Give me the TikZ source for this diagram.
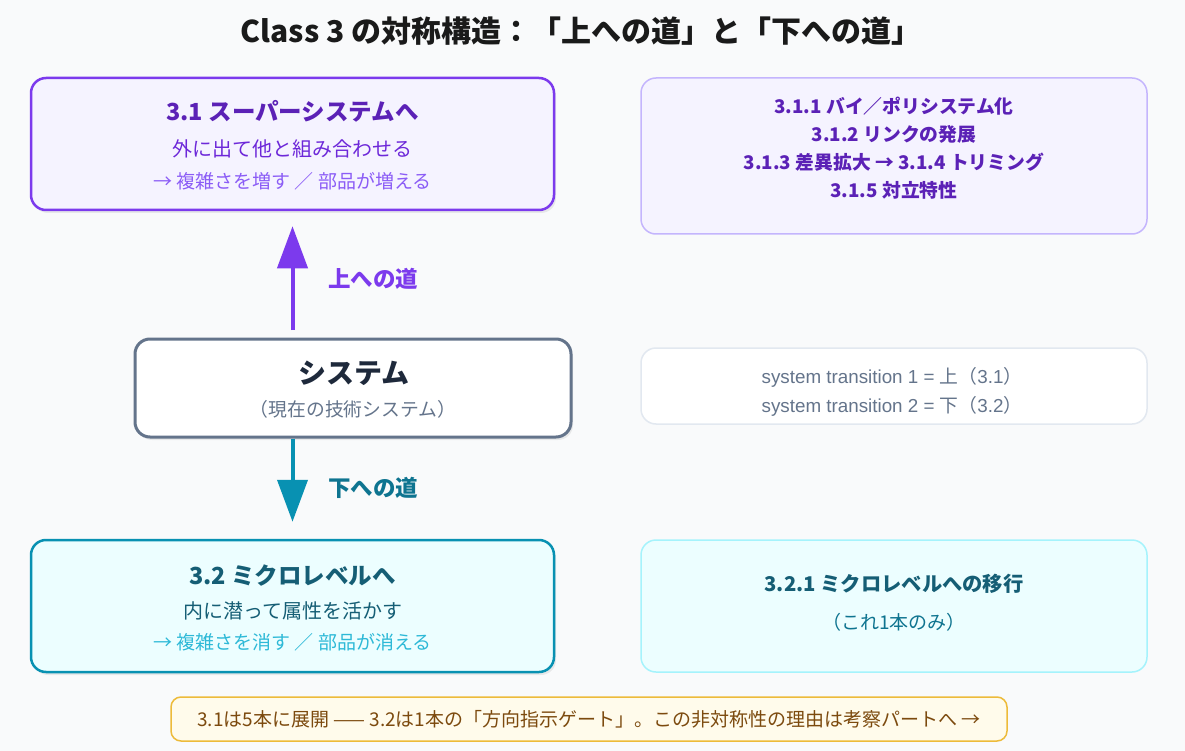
\documentclass[tikz,border=0pt]{standalone}
\usepackage{fontspec}
\setmainfont{Noto Sans CJK JP}
\newfontfamily\lat{Liberation Sans}
\usetikzlibrary{arrows.meta,shadows,calc}
\definecolor{bgc}{HTML}{F9FAFB}
\definecolor{purp}{HTML}{7C3AED}
\definecolor{purpdk}{HTML}{5B21B6}
\definecolor{purpmd}{HTML}{6D28D9}
\definecolor{purplt}{HTML}{8B5CF6}
\definecolor{lav}{HTML}{F5F3FF}
\definecolor{lavbd}{HTML}{C4B5FD}
\definecolor{slate}{HTML}{64748B}
\definecolor{slatedk}{HTML}{1E293B}
\definecolor{greybd}{HTML}{E2E8F0}
\definecolor{teal}{HTML}{0891B2}
\definecolor{tealdk}{HTML}{155E75}
\definecolor{tealmd}{HTML}{0E7490}
\definecolor{teallt}{HTML}{2DB9D7}
\definecolor{cyanfill}{HTML}{ECFEFF}
\definecolor{cyanbd}{HTML}{A5F3FC}
\definecolor{amberfill}{HTML}{FFFBEB}
\definecolor{amberbd}{HTML}{EDBB3A}
\definecolor{brown}{HTML}{7C4A0E}
\definecolor{titlec}{HTML}{1A1A1A}
\begin{document}
\begin{tikzpicture}[x=1pt,y=-1pt,
  box/.style={rounded corners=15pt, inner sep=0pt},
  shad/.style={drop shadow={shadow xshift=2pt, shadow yshift=-3pt, opacity=0.07, fill=black}},
  txt/.style={inner sep=0pt, anchor=center},
  uparrow/.style={draw=purp, line width=4pt, -{Triangle[width=30pt,length=42pt]}},
  downarrow/.style={draw=teal, line width=4pt, -{Triangle[width=30pt,length=42pt]}},
  lab/.style={inner sep=0pt, font=\fontsize{22.5}{26}\selectfont\bfseries}
]
\fill[bgc] (0,0) rectangle (1185,751);
\useasboundingbox (0,0) rectangle (1185,751);

% title
\node[txt, text=titlec, font=\fontsize{30}{34}\selectfont\bfseries] (title) at (581,31) {Class 3 の対称構造：「上への道」と「下への道」};

% boxes
\node[box, shad, draw=purp, fill=lav, line width=2.5pt, minimum width=523pt, minimum height=132pt] (sup) at (292.5,144) {};
\node[box, draw=lavbd, fill=lav, line width=1.5pt, minimum width=506pt, minimum height=156pt] (supr) at (894,156) {};
\node[box, shad, draw=slate, fill=white, line width=3pt, minimum width=436pt, minimum height=98pt] (sys) at (353,388) {};
\node[box, draw=greybd, fill=white, line width=1.5pt, minimum width=506pt, minimum height=76pt] (sysr) at (894,386) {};
\node[box, shad, draw=teal, fill=cyanfill, line width=2.5pt, minimum width=523pt, minimum height=132pt] (mic) at (292.5,606) {};
\node[box, draw=cyanbd, fill=cyanfill, line width=1.5pt, minimum width=506pt, minimum height=132pt] (micr) at (894,606) {};
\node[box, rounded corners=10pt, draw=amberbd, fill=amberfill, line width=1.5pt, minimum width=836pt, minimum height=44pt] (note) at (589,719) {};

% texts of 3.1
\node[txt, text=purpdk, font=\fontsize{23.5}{27}\selectfont\bfseries] (supt) at (292.5,111) {3.1 スーパーシステムへ};
\node[txt, text=purpmd, font=\fontsize{20}{24}\selectfont] (sup2) at (292.5,149) {外に出て他と組み合わせる};
\node[txt, text=purplt, font=\fontsize{19}{23}\selectfont] (sup3) at (292.5,181) {→ 複雑さを増す ／ 部品が増える};

% right top
\node[txt, text=purpdk, font=\fontsize{18.8}{22}\selectfont\bfseries] (r1) at (894,106) {3.1.1 バイ／ポリシステム化};
\node[txt, text=purpdk, font=\fontsize{18.8}{22}\selectfont\bfseries] (r2) at (894,134) {3.1.2 リンクの発展};
\node[txt, text=purpdk, font=\fontsize{18.8}{22}\selectfont\bfseries] (r3) at (894,162) {3.1.3 差異拡大 → 3.1.4 トリミング};
\node[txt, text=purpdk, font=\fontsize{18.8}{22}\selectfont\bfseries] (r4) at (894,190) {3.1.5 対立特性};

% system
\node[txt, text=slatedk, font=\fontsize{28}{32}\selectfont\bfseries] (syst) at (354,373) {システム};
\node[txt, text=slate, font=\fontsize{18.8}{22}\selectfont] (sys2) at (353,409) {（現在の技術システム）};

% system right
\node[txt, text=slate, font=\fontsize{18.8}{22}\selectfont] (s1) at (892,377) {{\lat system transition 1 = }上（{\lat 3.1}）};
\node[txt, text=slate, font=\fontsize{18.8}{22}\selectfont] (s2) at (892,406) {{\lat system transition 2 = }下（{\lat 3.2}）};

% texts of 3.2
\node[txt, text=tealdk, font=\fontsize{23.5}{27}\selectfont\bfseries] (mict) at (292.5,576) {3.2 ミクロレベルへ};
\node[txt, text=tealdk, font=\fontsize{20}{24}\selectfont] (mic2) at (292.5,611) {内に潜って属性を活かす};
\node[txt, text=teallt, font=\fontsize{19}{23}\selectfont] (mic3) at (292.5,642) {→ 複雑さを消す ／ 部品が消える};

% right bottom
\node[txt, text=tealdk, font=\fontsize{20.3}{24}\selectfont\bfseries] (m1) at (894,584) {3.2.1 ミクロレベルへの移行};
\node[txt, text=tealmd, font=\fontsize{19}{23}\selectfont] (m2) at (894,622) {（これ1本のみ）};

% note
\node[txt, text=brown, font=\fontsize{19}{23}\selectfont] (notet) at (589,719) {3.1は5本に展開 —— 3.2は1本の「方向指示ゲート」。この非対称性の理由は考察パートへ →};

% arrows
\draw[uparrow, shorten <=7.5pt, shorten >=15pt] (sys.north -| sup.south) -- (sup.south);
\draw[downarrow, shorten >=17pt] (sys.south -| mic.north) -- (mic.north);
\node[lab, text=purp] (uplab) at (373,279) {上への道};
\node[lab, text=tealmd] (downlab) at (373,488) {下への道};
\end{tikzpicture}
\end{document}
